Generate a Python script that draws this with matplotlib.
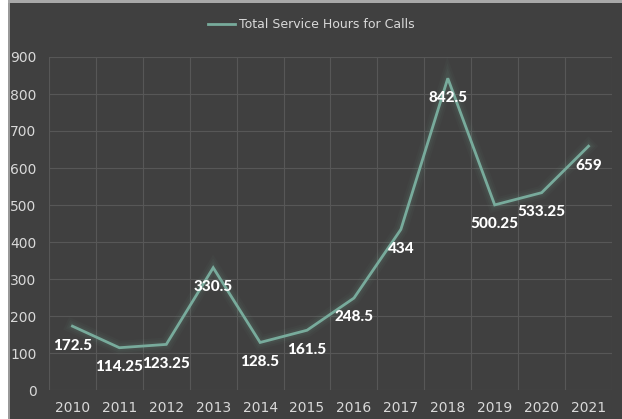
import matplotlib.pyplot as plt
from matplotlib.patches import Rectangle

years = ['2010', '2011', '2012', '2013', '2014', '2015',
         '2016', '2017', '2018', '2019', '2020', '2021']
hours = [172.5, 114.25, 123.25, 330.5, 128.5, 161.5,
         248.5, 434, 842.5, 500.25, 533.25, 659]
label_text = ['172.5', '114.25', '123.25', '330.5', '128.5', '161.5',
              '248.5', '434', '842.5', '500.25', '533.25', '659']

bg = '#404040'
grid_c = '#575757'
text_c = '#d9d9d9'
line_c = '#78ab9c'

fig = plt.figure(figsize=(6.22, 4.19), dpi=100, facecolor=bg)
ax = fig.add_axes([49 / 622, 1 - 390 / 419, 563 / 622, 333 / 419])
ax.set_facecolor(bg)

x = list(range(len(years)))

# soft glow under the series line
for w, a in [(10, 0.04), (7, 0.05), (4.5, 0.07)]:
    ax.plot(x, hours, color=line_c, lw=w, alpha=a, solid_joinstyle='miter', zorder=2)
ax.plot(x, hours, color=line_c, lw=2, label='Total Service Hours for Calls',
        solid_joinstyle='miter', zorder=3)

for xi, v, t in zip(x, hours, label_text):
    ax.annotate(t, (xi, v), xytext=(0, -14), textcoords='offset points',
                ha='center', va='center', color='white', fontsize=11,
                fontweight='black', family=['Lato', 'DejaVu Sans'], zorder=4)

ax.set_xlim(-0.5, len(years) - 0.5)
ax.set_ylim(0, 900)
ax.set_yticks(range(0, 1000, 100))
ax.set_xticks(x)
ax.set_xticklabels(years)

# vertical grid sits between categories
for b in range(len(years) + 1):
    ax.axvline(b - 0.5, color=grid_c, lw=0.8, zorder=1)
ax.yaxis.grid(True, color=grid_c, lw=0.8, zorder=1)
ax.set_axisbelow(True)

for s in ax.spines.values():
    s.set_visible(False)
ax.tick_params(length=0, colors=text_c, labelsize=10)
ax.tick_params(axis='y', pad=9)
ax.tick_params(axis='x', pad=8)

leg = fig.legend(loc='center', bbox_to_anchor=(0.5, 1 - 25 / 419), frameon=False,
                 fontsize=9, handlelength=2.2, handletextpad=0.3)
for t in leg.get_texts():
    t.set_color(text_c)

# outer frame edges
fig.patches.append(Rectangle((0, 0), 8 / 622, 1, transform=fig.transFigure,
                             facecolor='white', edgecolor='none'))
fig.patches.append(Rectangle((8 / 622, 0), 1.5 / 622, 1, transform=fig.transFigure,
                             facecolor='#9a9a9a', edgecolor='none'))
fig.patches.append(Rectangle((8 / 622, 1 - 3 / 419), 1, 3 / 419, transform=fig.transFigure,
                             facecolor='#a8a8a8', edgecolor='none'))

fig.savefig('out.png', dpi=100, facecolor=bg)
